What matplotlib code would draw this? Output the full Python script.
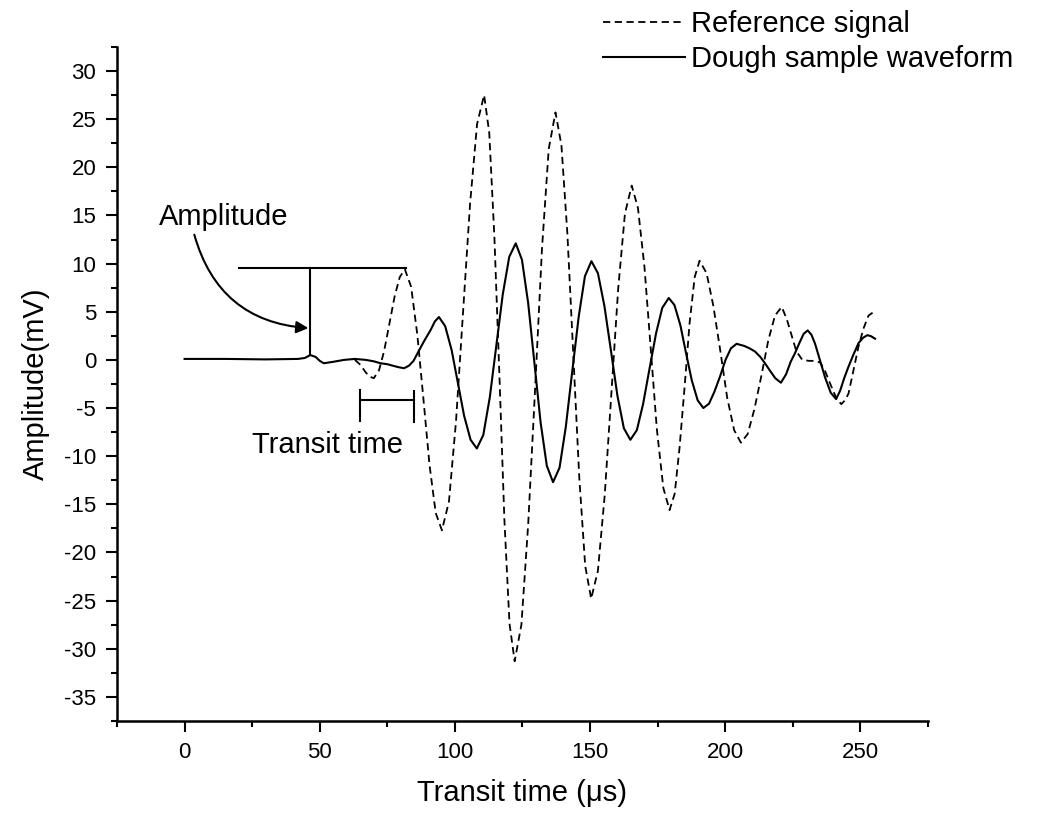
import matplotlib
matplotlib.use('Agg')
import matplotlib.pyplot as plt
from matplotlib.ticker import MultipleLocator

plt.rcParams['font.family'] = ['Liberation Sans', 'DejaVu Sans']
plt.rcParams['axes.unicode_minus'] = False

# Reference signal (dashed)
ref_t = [63, 65, 67, 68.5, 70, 71.9, 73.8, 75.8, 77.7, 79.6,
         81.5, 83.8, 86.1, 88.4, 90.6, 92.9,
         95.2, 97.8, 100.4, 103.0, 105.6, 108.2,
         110.8, 112.7, 114.6, 116.5, 118.3, 120.2,
         122.1, 124.6, 127.1, 129.7, 132.2, 134.7,
         137.2, 139.4, 141.6, 143.8, 146.0, 148.2,
         150.4, 152.9, 155.4, 157.9, 160.4, 162.9,
         165.4, 167.7, 170.1, 172.4, 174.7, 177.1,
         179.4, 181.3, 183.1, 185.0, 186.8, 188.7,
         190.5, 193.1, 195.6, 198.2, 200.7, 203.3,
         205.8, 208.3, 210.8, 213.4, 215.9, 218.4,
         220.9, 222.8, 224.6, 226.3, 228.5, 231, 233.5, 235.2,
         237, 239, 241, 242.9, 244.3, 245.6, 247.5, 249.3, 251.2, 253.0, 254.5]
ref_v = [0, -0.5, -1.3, -1.75, -1.9, -1.1, 0.9, 3.8, 6.6, 8.6,
         9.4, 7.6, 2.6, -4.2, -10.9, -15.9,
         -17.7, -14.7, -6.4, 4.9, 16.2, 24.5,
         27.5, 23.6, 12.8, -1.9, -16.6, -27.4,
         -31.3, -27.5, -17.1, -2.8, 11.5, 21.9,
         25.7, 22.3, 13.1, 0.5, -12.2, -21.4,
         -24.8, -21.9, -14.1, -3.4, 7.4, 15.2,
         18.1, 15.8, 9.7, 1.3, -7.2, -13.3,
         -15.6, -13.9, -9.1, -2.7, 3.8, 8.6,
         10.3, 9.0, 5.6, 0.9, -3.9, -7.3,
         -8.6, -7.7, -5.1, -1.6, 2.0, 4.6,
         5.5, 4.2, 2.5, 0.9, 0.0, -0.1, -0.1, -0.3,
         -1.2, -2.6, -3.9, -4.6, -4.2, -3.5, -1.0, 1.4, 3.3, 4.6, 4.9]

# Dough sample waveform (solid)
dough_t = [0, 15, 30, 42, 44.5, 46.5, 48.5, 50, 51.5, 55, 59, 63, 67, 70,
           72.5, 75, 77, 79, 81.2, 83, 84.7, 86.2, 88.5, 91, 92.6,
           94.1, 96.4, 98.8, 101.1, 103.4, 105.8,
           108.1, 110.5, 112.9, 115.3, 117.7, 120.1,
           122.5, 124.8, 127.1, 129.4, 131.7, 134.0,
           136.3, 138.7, 141.0, 143.4, 145.8, 148.1,
           150.5, 152.9, 155.3, 157.7, 160.1, 162.5,
           164.9, 167.3, 169.6, 172.0, 174.4, 176.7,
           179.1, 181.2, 183.4, 185.5, 187.6, 189.8,
           191.9, 194.0, 196.0, 198.1, 200.1, 202.1,
           204.2, 207, 209, 211, 213, 214.7, 216.5, 218.5, 220.6, 222.5,
           224.2, 225.8, 227.5, 229, 230.5, 231.9, 233.2, 235, 236.9, 239,
           241, 242.5, 244, 245.6, 247.5, 249.3, 251, 252.6, 254, 255.4]
dough_v = [0.1, 0.1, 0.05, 0.1, 0.2, 0.5, 0.3, -0.1, -0.35, -0.2, 0.0, 0.1,
           0.0, -0.15, -0.35, -0.45, -0.6, -0.75, -0.87, -0.6, -0.1, 0.7,
           1.9, 3.1, 4.0,
           4.45, 3.5, 1.0, -2.4, -5.8, -8.3,
           -9.2, -7.8, -3.9, 1.45, 6.8, 10.7,
           12.1, 10.4, 5.9, -0.3, -6.5, -11.0,
           -12.7, -11.2, -7.0, -1.2, 4.5, 8.7,
           10.25, 9.0, 5.6, 1.0, -3.7, -7.1,
           -8.3, -7.3, -4.6, -0.9, 2.75, 5.4,
           6.43, 5.7, 3.6, 0.7, -2.1, -4.2,
           -5.0, -4.55, -3.3, -1.7, 0.0, 1.2,
           1.67, 1.45, 1.2, 0.87, 0.3, -0.35, -1.1, -1.9, -2.37, -1.5,
           -0.2, 0.7, 1.8, 2.7, 3.06, 2.6, 1.7, 0.0, -1.8, -3.4,
           -4.07, -3.2, -1.9, -0.7, 0.6, 1.74, 2.3, 2.57, 2.45, 2.2]

fig = plt.figure(figsize=(10.4, 8.22), dpi=100)
ax = fig.add_axes([0.1125, 0.1229, 0.7798, 0.8200])

l1, = ax.plot(ref_t, ref_v, color='black', lw=1.3, linestyle=(0, (4, 2.5)))
l2, = ax.plot(dough_t, dough_v, color='black', lw=1.5)

# amplitude marker
ax.plot([20.3, 82], [9.5, 9.5], color='black', lw=1.5)
ax.plot([46.4, 46.4], [9.5, 0.5], color='black', lw=1.5)
ax.text(14.4, 14.0, 'Amplitude', fontsize=21, ha='center', va='baseline')
ax.annotate('', xy=(45.8, 3.3), xytext=(3.6, 13.0),
            arrowprops=dict(arrowstyle='-|>', color='black', lw=1.5,
                            connectionstyle='arc3,rad=0.35',
                            mutation_scale=18, shrinkA=0, shrinkB=0))

# transit time bracket
ax.plot([64.9, 84.7], [-4.2, -4.2], color='black', lw=1.5)
ax.plot([64.9, 64.9], [-3.1, -6.3], color='black', lw=1.5)
ax.plot([84.7, 84.7], [-3.2, -6.5], color='black', lw=1.5)
ax.text(53, -9.7, 'Transit time', fontsize=21, ha='center', va='baseline')

ax.set_xlim(-25, 275)
ax.set_ylim(-37.5, 32.5)
ax.xaxis.set_major_locator(MultipleLocator(50))
ax.xaxis.set_minor_locator(MultipleLocator(25))
ax.yaxis.set_major_locator(MultipleLocator(5))
ax.yaxis.set_minor_locator(MultipleLocator(2.5))

ax.spines['top'].set_visible(False)
ax.spines['right'].set_visible(False)
for s in ['left', 'bottom']:
    ax.spines[s].set_linewidth(1.8)
ax.tick_params(which='major', direction='out', length=8, width=1.5,
               labelsize=16, pad=7)
ax.tick_params(which='minor', direction='out', length=4, width=1.5)

ax.set_xlabel('Transit time (μs)', fontsize=21, labelpad=12)
ax.set_ylabel('Amplitude(mV)', fontsize=21, labelpad=10)

fig.legend([l1, l2], ['Reference signal', 'Dough sample waveform'],
           loc='upper right', bbox_to_anchor=(0.974, 0.988), frameon=False,
           fontsize=21, handlelength=2.8, handletextpad=0.2,
           labelspacing=0.24, borderpad=0, borderaxespad=0)

plt.savefig('out.png', dpi=100)
